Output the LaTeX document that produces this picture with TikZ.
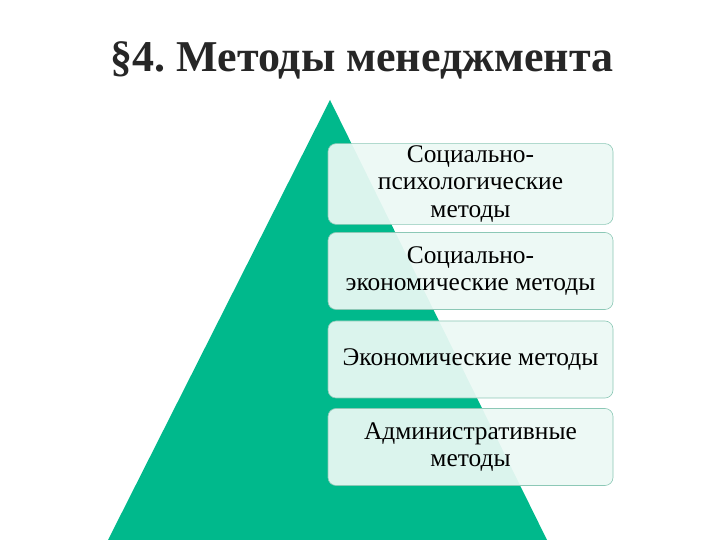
\documentclass[tikz,border=0pt]{standalone}
\usepackage{fontspec}
\setmainfont{Liberation Serif}
\definecolor{pyrgreen}{RGB}{0,185,140}
\definecolor{boxfill}{RGB}{236,249,245}
\definecolor{boxline}{RGB}{140,200,182}
\tikzset{
  levelbox/.style={draw=boxline, line width=0.6pt, fill=boxfill, fill opacity=0.93, text opacity=1,
    rounded corners=8pt, minimum width=285pt, minimum height=77pt, align=center,
    font=\fontsize{25.4}{27.5}\selectfont, inner sep=2pt},
  titlestyle/.style={font=\fontsize{44}{50}\selectfont\bfseries, text=black!85}
}
\frenchspacing
\begin{document}
\begin{tikzpicture}[x=1pt,y=1pt]
\useasboundingbox (0,0) rectangle (720,540);
\fill[white] (0,0) rectangle (720,540);
\node[titlestyle] (title) at (362,480) {§4. Методы менеджмента};
\fill[pyrgreen] (108,0) -- (330,440) -- (547,0) -- cycle;
\node[levelbox] (b1) at (470.5,356) {Социально-\\психологические\\методы};
\node[levelbox] (b2) at (470.5,269) {Социально-\\экономические методы};
\node[levelbox] (b3) at (470.5,180.5) {Экономические методы};
\node[levelbox] (b4) at (470.5,93) {Административные\\методы};
\end{tikzpicture}
\end{document}
